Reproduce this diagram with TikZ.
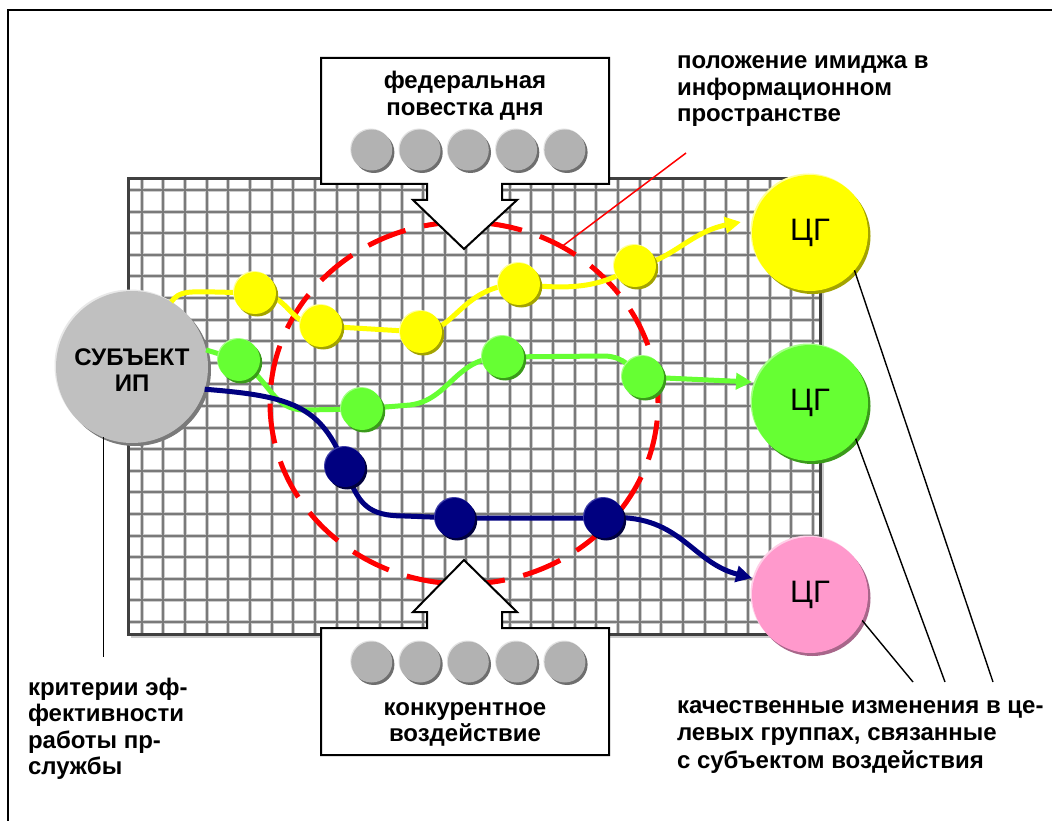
\documentclass[tikz,border=0pt]{standalone}
\usepackage{fontspec}
\setmainfont{Liberation Sans}
\usetikzlibrary{arrows.meta,shadows,shapes.geometric}
\definecolor{cyel}{HTML}{FFFF00}\definecolor{cyeld}{HTML}{A3A300}\definecolor{cyell}{HTML}{FFFF99}
\definecolor{cgrn}{HTML}{66FF33}\definecolor{cgrnd}{HTML}{3A9A1A}\definecolor{cgrnl}{HTML}{A6FF88}
\definecolor{cnav}{HTML}{000080}\definecolor{cnavd}{HTML}{00003F}\definecolor{cnavl}{HTML}{4040A8}
\definecolor{cgry}{HTML}{B2B2B2}\definecolor{cgryd}{HTML}{6E6E6E}\definecolor{cgryl}{HTML}{E2E2E2}
\definecolor{csub}{HTML}{C0C0C0}\definecolor{csubd}{HTML}{7A7A7A}\definecolor{csubl}{HTML}{E8E8E8}
\definecolor{cpnk}{HTML}{FF99CC}\definecolor{cpnkd}{HTML}{A8668A}\definecolor{cpnkl}{HTML}{FFD0E8}
\newcommand{\mylines}[2]{\begin{tabular}[t]{@{}#1@{}}#2\end{tabular}}
\begin{document}
\begin{tikzpicture}[x=1pt,y=-1pt,
  every node/.style={inner sep=0pt, outer sep=0pt},
  lbl/.style={font=\fontsize{24}{26.5}\selectfont\bfseries},
  lblw/.style={font=\fontsize{24}{27.5}\selectfont\bfseries},
  ball/.style n args={4}{circle, minimum size=#1, fill=#2,
     general shadow={fill=#3, shadow xshift=2.2pt, shadow yshift=-2.5pt},
     general shadow={fill=#4, shadow xshift=-1pt, shadow yshift=1pt}},
  ydot/.style={ball={42pt}{cyel}{cyeld}{cyell}},
  gdot/.style={ball={42pt}{cgrn}{cgrnd}{cgrnl}},
  ndot/.style={ball={40pt}{cnav}{cnavd}{cnavl}},
  gball/.style={ball={41pt}{cgry}{cgryd}{cgryl}},
  cg/.style={font=\fontsize{31}{34}\selectfont, minimum size=116pt},
  ycur/.style={draw=cyel, line width=5pt},
  gcur/.style={draw=cgrn, line width=5pt},
  ncur/.style={draw=cnav, line width=5pt},
  tip/.style={-{Triangle[length=16pt,width=16pt]}},
  callout/.style={draw=black, line width=2pt, fill=white, line join=miter},
  leader/.style={draw=black, line width=1.4pt}
]
\useasboundingbox (0,0) rectangle (1052,821);
\fill[white] (0,0) rectangle (1052,821);

% outer frame
\coordinate (fBL) at (8,821); \coordinate (fTL) at (8,10); \coordinate (fTR) at (1052,10);
\draw[line width=2pt] (fBL) -- (fTL) -- (fTR);

% grid
\fill[white] (128,179) rectangle (820,634);
\foreach \i in {0,...,31} \draw[line width=4pt, black!20] ({141.7+21.65*\i},179) -- ++(0,455);
\foreach \i in {0,...,20} \draw[line width=4pt, black!20] (128,{190+21.6*\i}) -- ++(692,0);
\foreach \i in {0,...,31} \draw[line width=2pt, black!52] ({141.7+21.65*\i},179) -- ++(0,455);
\foreach \i in {0,...,20} \draw[line width=2pt, black!52] (128,{190+21.6*\i}) -- ++(692,0);
\draw[line width=2.5pt, black!20] (131,637) -- (823,637) -- (823,182);
\draw[line width=3pt, black!75] (128,179) rectangle (820,634);

% information field
\node[ellipse, draw=red, line width=5pt, dash pattern=on 40pt off 19pt,
      minimum width=388pt, minimum height=362pt] (field) at (464,403) {};

% top callout
\draw[callout] (321,58) -- (609,58) -- (609,184) -- (502,184) -- (502,200) -- (517,200)
  -- (464,249) -- (413,200) -- (427,200) -- (427,184) -- (321,184) -- cycle;
\node[lbl, anchor=base] (fed) at (465,89) {\mylines{c}{федеральная\\повестка дня}};
\foreach \k in {1,...,5} \node[gball] (tb\k) at ({323.4+48.3*\k},150) {};

% bottom callout
\draw[callout] (321,628) -- (427,628) -- (427,612) -- (413,612) -- (464,560) -- (517,612)
  -- (502,612) -- (502,628) -- (609,628) -- (609,755) -- (321,755) -- cycle;
\node[lbl, anchor=base] (konk) at (465,715) {\mylines{c}{конкурентное\\воздействие}};
\foreach \k in {1,...,5} \node[gball] (bb\k) at ({323.4+48.3*\k},662) {};

% subject and target groups
\node[circle, minimum size=152pt, fill=csub,
     general shadow={fill=csubd, shadow xshift=3pt, shadow yshift=-3pt},
     general shadow={fill=csubl, shadow xshift=-1.5pt, shadow yshift=1.5pt}] (S) at (132,367) {};
\node[lbl, anchor=base] (St) at (132,365) {\mylines{c}{СУБЪЕКТ\\ИП}};

\node[cg, circle, fill=cyel, general shadow={fill=cyeld, shadow xshift=2.5pt, shadow yshift=-3pt},
      general shadow={fill=cyell, shadow xshift=-1.5pt, shadow yshift=1.5pt}] (CGy) at (810,233) {ЦГ};
\node[cg, circle, fill=cgrn, general shadow={fill=cgrnd, shadow xshift=2.5pt, shadow yshift=-3pt},
      general shadow={fill=cgrnl, shadow xshift=-1.5pt, shadow yshift=1.5pt}] (CGg) at (810,403) {ЦГ};
\node[cg, circle, fill=cpnk, general shadow={fill=cpnkd, shadow xshift=2.5pt, shadow yshift=-3pt},
      general shadow={fill=cpnkl, shadow xshift=-1.5pt, shadow yshift=1.5pt}] (CGp) at (810,595) {ЦГ};

% dot positions
\coordinate (y1) at (255,293); \coordinate (y2) at (321,326); \coordinate (y3) at (421,332);
\coordinate (y4) at (519,284); \coordinate (y5) at (635,266);
\coordinate (g1) at (239,360); \coordinate (g2) at (362,409); \coordinate (g3) at (503,357);
\coordinate (g4) at (643,377);
\coordinate (n1) at (345,467); \coordinate (n2) at (455,518); \coordinate (n3) at (604,518);
\coordinate (ye) at (741,222); \coordinate (ge) at (752,382); \coordinate (ne) at (752,578);

% curves
\draw[ycur] (S.59) .. controls (180,290) and (190,292) .. (215,292) -- (y1)
  .. controls (290,293) and (288,326) .. (y2) -- (y3)
  .. controls (455,332) and (462,286) .. (y4)
  .. controls (570,290) and (600,288) .. (y5);
\draw[ycur, tip] (y5) .. controls (670,262) and (690,232) .. (ye);
\draw[gcur] (S.13) -- (g1) .. controls (272,382) and (272,410) .. (305,410) -- (g2)
  -- (410,405) .. controls (450,400) and (455,357) .. (g3)
  -- (605,356) .. controls (625,357) and (630,368) .. (g4);
\draw[gcur, tip] (g4) -- (ge);
\draw[ncur] (S.-17) .. controls (290,396) and (322,405) .. (n1)
  .. controls (358,505) and (368,516) .. (405,516) -- (n2) -- (n3);
\draw[ncur, tip] (n3) .. controls (680,512) and (690,562) .. (ne);

% dots
\node[ydot] (Y1) at (y1) {}; \node[ydot] (Y2) at (y2) {}; \node[ydot] (Y3) at (y3) {};
\node[ydot] (Y4) at (y4) {}; \node[ydot] (Y5) at (y5) {};
\node[gdot] (G1) at (g1) {}; \node[gdot] (G2) at (g2) {}; \node[gdot] (G3) at (g3) {};
\node[gdot] (G4) at (g4) {};
\node[ndot] (N1) at (n1) {}; \node[ndot] (N2) at (n2) {}; \node[ndot] (N3) at (n3) {};

% labels
\node[lbl, anchor=base west] (pol) at (677,69) {\mylines{l}{положение имиджа в\\информационном\\пространстве}};
\coordinate (polEnd) at (686,153);
\draw[red, line width=1.5pt] (field.58) -- (polEnd);

\node[lbl, anchor=base west] (krit) at (28,695) {\mylines{l}{критерии эф-\\фективности\\работы пр-\\службы}};
\coordinate (kritEnd) at (104,657);
\draw[leader] (S.248) -- (S.248 |- kritEnd);

\node[lblw, anchor=base west] (kach) at (677,713) {\mylines{l}{качественные изменения в це-\\левых группах, связанные\\с субъектом воздействия}};
\coordinate (ky) at (993,682); \coordinate (kg) at (945,682); \coordinate (kp) at (913,682);
\draw[leader] (CGy.-40.6) -- (ky);
\draw[leader] (CGg.-38.4) -- (kg);
\draw[leader] (CGp.-26.6) -- (kp);
\end{tikzpicture}
\end{document}
